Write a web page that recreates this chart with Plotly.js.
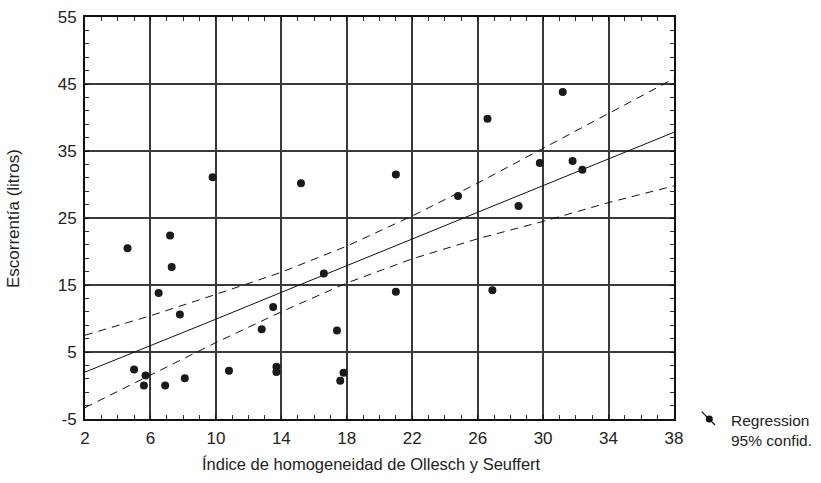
<!DOCTYPE html>
<html>
<head>
<meta charset="utf-8">
<script src="https://cdn.plot.ly/plotly-3.0.1.min.js"></script>
<style>html,body{margin:0;padding:0;background:#fff;}#chart{width:821px;height:483px;}</style>
</head>
<body>
<div id="chart"></div>
<script>
// Observed points (índice, escorrentía)
const indiceX = [9.8, 15.2, 31.2, 26.6, 21.0, 24.8, 29.8, 31.8, 32.4, 28.5,
                 4.6, 7.2, 7.3, 6.5, 7.8, 16.6, 13.5, 12.8, 17.4,
                 5.0, 5.7, 5.6, 6.9, 8.1, 10.8, 13.7, 13.7, 17.8, 17.6,
                 21.0, 26.9];
const escorrentiaY = [31.1, 30.2, 43.8, 39.8, 31.5, 28.3, 33.2, 33.5, 32.2, 26.8,
                      20.5, 22.4, 17.7, 13.8, 10.6, 16.7, 11.7, 8.4, 8.2,
                      2.4, 1.5, 0.0, 0.0, 1.1, 2.2, 2.8, 2.0, 1.9, 0.7,
                      14.0, 14.2];
// Regression line and 95% confidence band read at grid positions
const lineX  = [2, 6, 10, 14, 18, 22, 26, 30, 34, 38];
const fitY   = [2.0, 5.9, 9.9, 13.9, 17.9, 21.9, 25.9, 29.9, 33.8, 37.8];
const upperY = [7.5, 10.4, 13.6, 16.9, 20.8, 25.3, 30.2, 35.4, 40.7, 45.8];
const lowerY = [-3.3, 1.6, 6.4, 11.0, 15.3, 18.9, 21.9, 24.5, 27.3, 29.8];
const xTicks = [2, 6, 10, 14, 18, 22, 26, 30, 34, 38];
const yTicks = [-5, 5, 15, 25, 35, 45, 55];

const FONT = '"Liberation Sans", Arial, Helvetica, sans-serif';
const TXT = '#222';

const traces = [
  {x: lineX, y: upperY, mode: 'lines', line: {color: '#111', width: 1, dash: '8px,6px'}, hoverinfo: 'skip'},
  {x: lineX, y: lowerY, mode: 'lines', line: {color: '#111', width: 1, dash: '8px,6px'}, hoverinfo: 'skip'},
  {x: lineX, y: fitY, mode: 'lines', line: {color: '#111', width: 1}, hoverinfo: 'skip'},
  {x: indiceX, y: escorrentiaY, mode: 'markers', marker: {color: '#1a1a1a', size: 8}, hoverinfo: 'skip'}
];

function px(v) { return (v - 85) / 589; }
function py(v) { return (419 - v) / 402; }

const layout = {
  width: 821, height: 483,
  margin: {l: 85, r: 147, t: 17, b: 64},
  paper_bgcolor: '#fff', plot_bgcolor: '#fff',
  showlegend: false,
  font: {family: FONT, size: 17, color: TXT},
  xaxis: {
    range: [2, 38], tickvals: xTicks, ticktext: xTicks.map(String),
    showgrid: true, gridcolor: '#3a3a3a', gridwidth: 2,
    zeroline: false, showline: true, linecolor: '#111', linewidth: 2, mirror: 'ticks',
    ticks: 'inside', ticklen: 4, tickcolor: '#111', ticklabelstandoff: 3,
    minor: {dtick: 1, tick0: 2, ticks: 'inside', ticklen: 4, tickcolor: '#333', showgrid: false},
    tickfont: {family: FONT, size: 17, color: TXT}
  },
  yaxis: {
    range: [-5, 55], tickvals: yTicks, ticktext: yTicks.map(String),
    showgrid: true, gridcolor: '#3a3a3a', gridwidth: 2,
    zeroline: false, showline: true, linecolor: '#111', linewidth: 2, mirror: 'ticks',
    ticks: 'inside', ticklen: 4, tickcolor: '#111', ticklabelstandoff: 3,
    minor: {dtick: 2, tick0: -5, ticks: 'inside', ticklen: 4, tickcolor: '#333', showgrid: false},
    tickfont: {family: FONT, size: 17, color: TXT}
  },
  shapes: [
    {type: 'line', xref: 'paper', yref: 'paper', x0: px(701.7), y0: py(411.7), x1: px(715), y1: py(425),
     line: {color: '#111', width: 1.2}},
    {type: 'circle', xref: 'paper', yref: 'paper', x0: px(705.8), x1: px(712.8), y0: py(415.5), y1: py(422.5),
     fillcolor: '#111', line: {color: '#111', width: 0}}
  ],
  annotations: [
    {text: 'Regression', xref: 'paper', yref: 'paper', x: px(729), y: py(420.5), xanchor: 'left', yanchor: 'middle',
     showarrow: false, font: {family: FONT, size: 15.5, color: TXT}},
    {text: '95% confid.', xref: 'paper', yref: 'paper', x: px(729), y: py(440.5), xanchor: 'left', yanchor: 'middle',
     showarrow: false, font: {family: FONT, size: 15.5, color: TXT}},
    {text: 'Índice de homogeneidad de Ollesch y Seuffert', xref: 'paper', yref: 'paper', x: px(371), y: py(464),
     xanchor: 'center', yanchor: 'middle', showarrow: false, font: {family: FONT, size: 16.5, color: TXT}},
    {text: 'Escorrentía (litros)', xref: 'paper', yref: 'paper', x: px(13), y: py(219), textangle: -90,
     xanchor: 'center', yanchor: 'middle', showarrow: false, font: {family: FONT, size: 17, color: TXT}}
  ]
};

Plotly.newPlot('chart', traces, layout, {displayModeBar: false, staticPlot: true});
</script>
</body>
</html>
